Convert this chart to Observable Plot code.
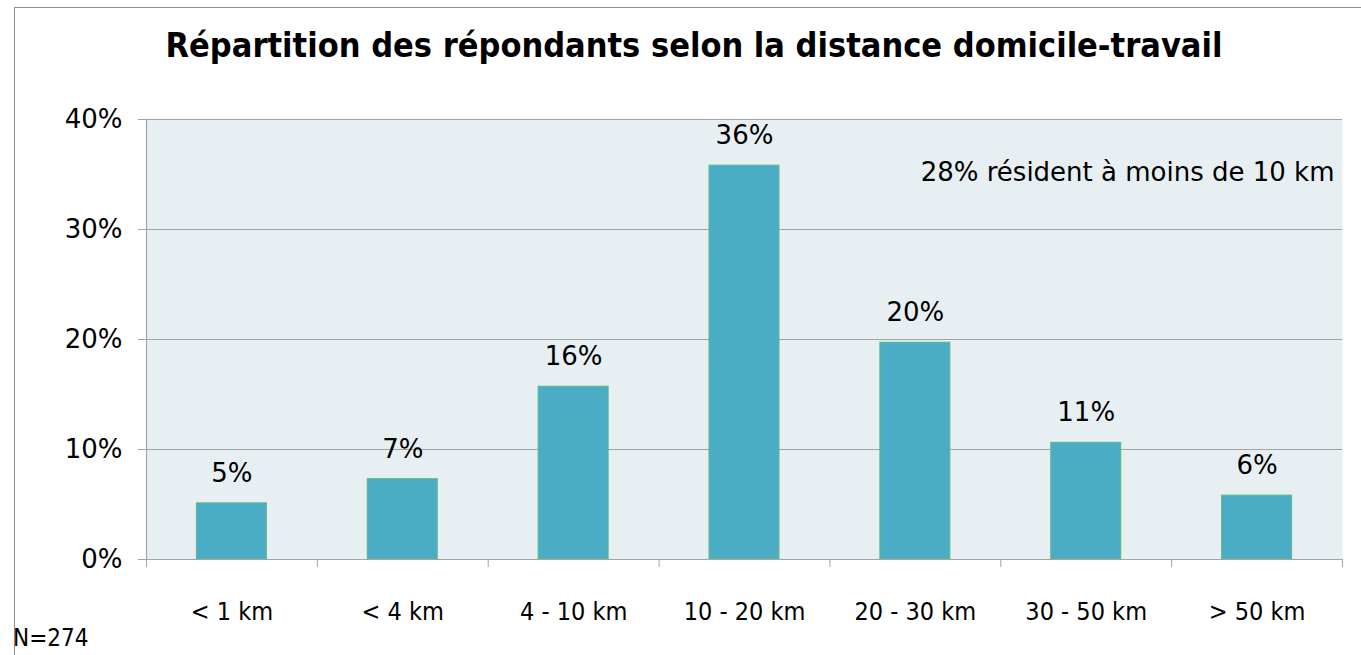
<!DOCTYPE html>
<html>
<head>
<meta charset="utf-8">
<script src="https://cdn.jsdelivr.net/npm/d3@7"></script>
<script src="https://cdn.jsdelivr.net/npm/@observablehq/plot@0.6"></script>
<style>
  body { margin: 0; background: #fff; overflow: hidden; }
  #frame { position: absolute; left: 14px; top: 7px; width: 1400px; height: 700px; border: 1.5px solid #8f8f8f; box-sizing: border-box; }
  #title { position: absolute; left: 0; top: 20px; width: 1388px; text-align: center;
           font-family: "DejaVu Sans Condensed", "DejaVu Sans", sans-serif; font-stretch: condensed;
           font-weight: bold; font-size: 34px; color: #000; line-height: 50px; }
  #chart { position: absolute; left: 0; top: 90px; }
  #note { position: absolute; left: 13px; top: 624px; font-family: "DejaVu Sans Condensed", "DejaVu Sans", sans-serif;
          font-stretch: condensed; font-size: 24px; color: #000; }
</style>
</head>
<body>
<div id="frame"></div>
<div id="title">Répartition des répondants selon la distance domicile-travail</div>
<div id="chart"></div>
<div id="note">N=274</div>
<script>
const categories = ["< 1 km", "< 4 km", "4 - 10 km", "10 - 20 km", "20 - 30 km", "30 - 50 km", "> 50 km"];
const values = [0.051, 0.073, 0.157, 0.358, 0.197, 0.106, 0.058];
const yTicks = [0, 0.1, 0.2, 0.3, 0.4];
const annotation = "28% résident à moins de 10 km";

const data = categories.map((c, i) => ({cat: c, i, v: values[i]}));
const condensed = "'DejaVu Sans Condensed', 'DejaVu Sans', sans-serif";
const wide = "'DejaVu Sans', sans-serif";

const chart = Plot.plot({
  width: 1361,
  height: 560,
  marginLeft: 146,
  marginRight: 19,
  marginTop: 29,
  marginBottom: 91,
  style: {fontFamily: wide, fontSize: "26px", color: "#000", background: "transparent"},
  x: {domain: [0, categories.length], axis: null, label: null},
  y: {domain: [0, 0.4], axis: null, label: null},
  marks: [
    Plot.frame({fill: "#e8eff3", stroke: null}),
    Plot.ruleY(yTicks.filter(d => d > 0), {stroke: "#a3a3a3", strokeWidth: 1.2}),
    Plot.axisY({ticks: yTicks, tickSize: 8, tickPadding: 16, tickFormat: d => Math.round(d * 100) + "%",
      stroke: "#a3a3a3", fill: "#000", fontSize: 26, anchor: "left", label: null}),
    Plot.ruleX([0], {y1: 0, y2: 0.4, stroke: "#a3a3a3", strokeWidth: 1.2}),
    Plot.axisX({ticks: d3.range(0, categories.length + 1), tickSize: 8, tickFormat: () => "", stroke: "#a3a3a3", anchor: "bottom", label: null}),
    Plot.rectY(data, {x1: "i", x2: d => d.i + 1, y: "v", fill: "#4bacc6", stroke: "#5dba8c", strokeWidth: 1.2,
      insetLeft: 50.5, insetRight: 50.5}),
    Plot.ruleY([0], {stroke: "#a3a3a3", strokeWidth: 1.2}),
    Plot.text(data, {x: d => d.i + 0.5, y: "v", text: d => Math.round(d.v * 100) + "%", dy: -30, fontSize: 26, fill: "#000"}),
    Plot.text(data, {x: d => d.i + 0.5, y: 0, text: "cat", dy: 52, fontSize: 25, fill: "#000", fontFamily: condensed, fontStretch: "condensed"}),
    Plot.text([annotation], {frameAnchor: "top-right", dx: -8, dy: 43, fontSize: 26, fill: "#000", textAnchor: "end"})
  ]
});
document.getElementById("chart").appendChild(chart);
</script>
</body>
</html>
